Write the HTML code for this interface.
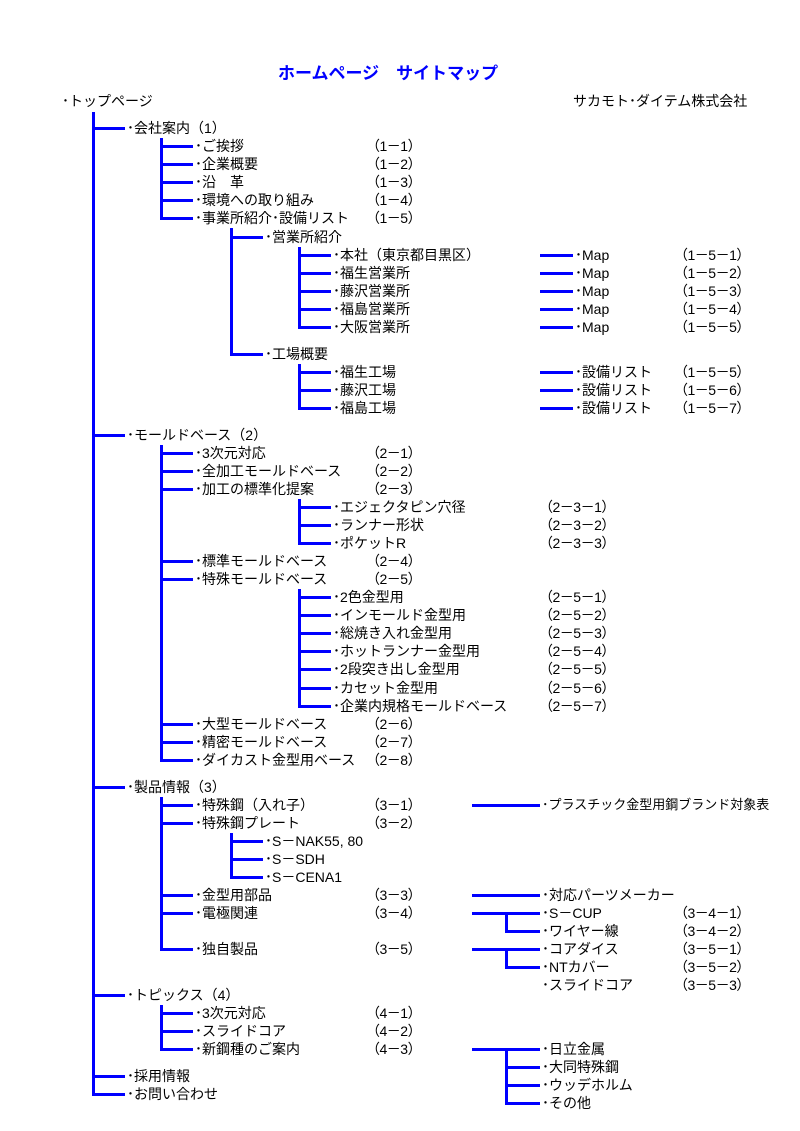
<!DOCTYPE html>
<html><head><meta charset="utf-8"><style>
body{margin:0;background:#fff;width:800px;height:1131px;position:relative;overflow:hidden;font-family:"Liberation Sans","Noto Sans CJK JP",sans-serif;color:#000}
.t{position:absolute;font-size:14px;line-height:18px;white-space:nowrap}
.c{font-size:14px;margin-left:-6px;letter-spacing:-0.5px}
.h{position:absolute;height:3px;background:#0000ff}
.v{position:absolute;width:3px;background:#0000ff}
</style></head><body>
<div class="t" style="left:278px;top:63px;font-size:17px;line-height:22px;font-weight:bold;color:#0000ff">ホームページ　サイトマップ</div>
<div class="t" style="left:62px;top:92px">･トップページ</div>
<div class="t" style="left:573px;top:92px">サカモト･ダイテム株式会社</div>

<div class="v" style="left:92px;top:112px;height:984px"></div>
<div class="h" style="left:92px;top:127px;width:33px"></div><div class="t" style="left:127px;top:119px">･会社案内（1）</div>
<div class="h" style="left:92px;top:434px;width:33px"></div><div class="t" style="left:127px;top:426px">･モールドベース（2）</div>
<div class="h" style="left:92px;top:786px;width:33px"></div><div class="t" style="left:127px;top:778px">･製品情報（3）</div>
<div class="h" style="left:92px;top:994px;width:33px"></div><div class="t" style="left:127px;top:986px">･トピックス（4）</div>
<div class="h" style="left:92px;top:1075px;width:33px"></div><div class="t" style="left:127px;top:1067px">･採用情報</div>
<div class="h" style="left:92px;top:1093px;width:33px"></div><div class="t" style="left:127px;top:1085px">･お問い合わせ</div>

<div class="v" style="left:160px;top:138px;height:82px"></div>
<div class="h" style="left:160px;top:145px;width:33px"></div><div class="t" style="left:195px;top:137px">･ご挨拶</div><div class="t c" style="left:372px;top:137px">（1－1）</div>
<div class="h" style="left:160px;top:163px;width:33px"></div><div class="t" style="left:195px;top:155px">･企業概要</div><div class="t c" style="left:372px;top:155px">（1－2）</div>
<div class="h" style="left:160px;top:181px;width:33px"></div><div class="t" style="left:195px;top:173px">･沿　革</div><div class="t c" style="left:372px;top:173px">（1－3）</div>
<div class="h" style="left:160px;top:199px;width:33px"></div><div class="t" style="left:195px;top:191px">･環境への取り組み</div><div class="t c" style="left:372px;top:191px">（1－4）</div>
<div class="h" style="left:160px;top:217px;width:33px"></div><div class="t" style="left:195px;top:209px">･事業所紹介･設備リスト</div><div class="t c" style="left:372px;top:209px">（1－5）</div>

<div class="v" style="left:230px;top:228px;height:128px"></div>
<div class="h" style="left:230px;top:236px;width:33px"></div><div class="t" style="left:265px;top:228px">･営業所紹介</div>
<div class="h" style="left:230px;top:353px;width:33px"></div><div class="t" style="left:265px;top:345px">･工場概要</div>

<div class="v" style="left:298px;top:247px;height:82px"></div>
<div class="h" style="left:298px;top:254px;width:33px"></div><div class="t" style="left:333px;top:246px">･本社（東京都目黒区）</div>
<div class="h" style="left:298px;top:272px;width:33px"></div><div class="t" style="left:333px;top:264px">･福生営業所</div>
<div class="h" style="left:298px;top:290px;width:33px"></div><div class="t" style="left:333px;top:282px">･藤沢営業所</div>
<div class="h" style="left:298px;top:308px;width:33px"></div><div class="t" style="left:333px;top:300px">･福島営業所</div>
<div class="h" style="left:298px;top:326px;width:33px"></div><div class="t" style="left:333px;top:318px">･大阪営業所</div>
<div class="h" style="left:540px;top:254px;width:33px"></div><div class="t" style="left:575px;top:246px">･Map</div><div class="t c" style="left:680px;top:246px">（1－5－1）</div>
<div class="h" style="left:540px;top:272px;width:33px"></div><div class="t" style="left:575px;top:264px">･Map</div><div class="t c" style="left:680px;top:264px">（1－5－2）</div>
<div class="h" style="left:540px;top:290px;width:33px"></div><div class="t" style="left:575px;top:282px">･Map</div><div class="t c" style="left:680px;top:282px">（1－5－3）</div>
<div class="h" style="left:540px;top:308px;width:33px"></div><div class="t" style="left:575px;top:300px">･Map</div><div class="t c" style="left:680px;top:300px">（1－5－4）</div>
<div class="h" style="left:540px;top:326px;width:33px"></div><div class="t" style="left:575px;top:318px">･Map</div><div class="t c" style="left:680px;top:318px">（1－5－5）</div>

<div class="v" style="left:298px;top:364px;height:46px"></div>
<div class="h" style="left:298px;top:371px;width:33px"></div><div class="t" style="left:333px;top:363px">･福生工場</div>
<div class="h" style="left:298px;top:389px;width:33px"></div><div class="t" style="left:333px;top:381px">･藤沢工場</div>
<div class="h" style="left:298px;top:407px;width:33px"></div><div class="t" style="left:333px;top:399px">･福島工場</div>
<div class="h" style="left:540px;top:371px;width:33px"></div><div class="t" style="left:575px;top:363px">･設備リスト</div><div class="t c" style="left:680px;top:363px">（1－5－5）</div>
<div class="h" style="left:540px;top:389px;width:33px"></div><div class="t" style="left:575px;top:381px">･設備リスト</div><div class="t c" style="left:680px;top:381px">（1－5－6）</div>
<div class="h" style="left:540px;top:407px;width:33px"></div><div class="t" style="left:575px;top:399px">･設備リスト</div><div class="t c" style="left:680px;top:399px">（1－5－7）</div>

<div class="v" style="left:160px;top:445px;height:317px"></div>
<div class="h" style="left:160px;top:452px;width:33px"></div><div class="t" style="left:195px;top:444px">･3次元対応</div><div class="t c" style="left:372px;top:444px">（2－1）</div>
<div class="h" style="left:160px;top:470px;width:33px"></div><div class="t" style="left:195px;top:462px">･全加工モールドベース</div><div class="t c" style="left:372px;top:462px">（2－2）</div>
<div class="h" style="left:160px;top:488px;width:33px"></div><div class="t" style="left:195px;top:480px">･加工の標準化提案</div><div class="t c" style="left:372px;top:480px">（2－3）</div>
<div class="v" style="left:298px;top:499px;height:46px"></div>
<div class="h" style="left:298px;top:506px;width:33px"></div><div class="t" style="left:333px;top:498px">･エジェクタピン穴径</div><div class="t c" style="left:545px;top:498px">（2－3－1）</div>
<div class="h" style="left:298px;top:524px;width:33px"></div><div class="t" style="left:333px;top:516px">･ランナー形状</div><div class="t c" style="left:545px;top:516px">（2－3－2）</div>
<div class="h" style="left:298px;top:542px;width:33px"></div><div class="t" style="left:333px;top:534px">･ポケットR</div><div class="t c" style="left:545px;top:534px">（2－3－3）</div>
<div class="h" style="left:160px;top:560px;width:33px"></div><div class="t" style="left:195px;top:552px">･標準モールドベース</div><div class="t c" style="left:372px;top:552px">（2－4）</div>
<div class="h" style="left:160px;top:578px;width:33px"></div><div class="t" style="left:195px;top:570px">･特殊モールドベース</div><div class="t c" style="left:372px;top:570px">（2－5）</div>
<div class="v" style="left:298px;top:589px;height:119px"></div>
<div class="h" style="left:298px;top:596px;width:33px"></div><div class="t" style="left:333px;top:588px">･2色金型用</div><div class="t c" style="left:545px;top:588px">（2－5－1）</div>
<div class="h" style="left:298px;top:614px;width:33px"></div><div class="t" style="left:333px;top:606px">･インモールド金型用</div><div class="t c" style="left:545px;top:606px">（2－5－2）</div>
<div class="h" style="left:298px;top:632px;width:33px"></div><div class="t" style="left:333px;top:624px">･総焼き入れ金型用</div><div class="t c" style="left:545px;top:624px">（2－5－3）</div>
<div class="h" style="left:298px;top:650px;width:33px"></div><div class="t" style="left:333px;top:642px">･ホットランナー金型用</div><div class="t c" style="left:545px;top:642px">（2－5－4）</div>
<div class="h" style="left:298px;top:668px;width:33px"></div><div class="t" style="left:333px;top:660px">･2段突き出し金型用</div><div class="t c" style="left:545px;top:660px">（2－5－5）</div>
<div class="h" style="left:298px;top:687px;width:33px"></div><div class="t" style="left:333px;top:679px">･カセット金型用</div><div class="t c" style="left:545px;top:679px">（2－5－6）</div>
<div class="h" style="left:298px;top:705px;width:33px"></div><div class="t" style="left:333px;top:697px">･企業内規格モールドベース</div><div class="t c" style="left:545px;top:697px">（2－5－7）</div>
<div class="h" style="left:160px;top:723px;width:33px"></div><div class="t" style="left:195px;top:715px">･大型モールドベース</div><div class="t c" style="left:372px;top:715px">（2－6）</div>
<div class="h" style="left:160px;top:741px;width:33px"></div><div class="t" style="left:195px;top:733px">･精密モールドベース</div><div class="t c" style="left:372px;top:733px">（2－7）</div>
<div class="h" style="left:160px;top:759px;width:33px"></div><div class="t" style="left:195px;top:751px">･ダイカスト金型用ベース</div><div class="t c" style="left:372px;top:751px">（2－8）</div>

<div class="v" style="left:160px;top:797px;height:154px"></div>
<div class="h" style="left:160px;top:804px;width:33px"></div><div class="t" style="left:195px;top:796px">･特殊鋼（入れ子）</div><div class="t c" style="left:372px;top:796px">（3－1）</div>
<div class="h" style="left:160px;top:822px;width:33px"></div><div class="t" style="left:195px;top:814px">･特殊鋼プレート</div><div class="t c" style="left:372px;top:814px">（3－2）</div>
<div class="v" style="left:230px;top:833px;height:46px"></div>
<div class="h" style="left:230px;top:840px;width:33px"></div><div class="t" style="left:265px;top:832px">･S－NAK55, 80</div>
<div class="h" style="left:230px;top:858px;width:33px"></div><div class="t" style="left:265px;top:850px">･S－SDH</div>
<div class="h" style="left:230px;top:876px;width:33px"></div><div class="t" style="left:265px;top:868px">･S－CENA1</div>
<div class="h" style="left:160px;top:894px;width:33px"></div><div class="t" style="left:195px;top:886px">･金型用部品</div><div class="t c" style="left:372px;top:886px">（3－3）</div>
<div class="h" style="left:160px;top:912px;width:33px"></div><div class="t" style="left:195px;top:904px">･電極関連</div><div class="t c" style="left:372px;top:904px">（3－4）</div>
<div class="h" style="left:160px;top:948px;width:33px"></div><div class="t" style="left:195px;top:940px">･独自製品</div><div class="t c" style="left:372px;top:940px">（3－5）</div>

<div class="h" style="left:472px;top:804px;width:68px"></div><div class="t" style="left:542px;top:796px;font-size:13px">･プラスチック金型用鋼ブランド対象表</div>
<div class="h" style="left:472px;top:894px;width:68px"></div><div class="t" style="left:542px;top:886px">･対応パーツメーカー</div>
<div class="h" style="left:472px;top:912px;width:68px"></div><div class="t" style="left:542px;top:904px">･S－CUP</div><div class="t c" style="left:680px;top:904px">（3－4－1）</div>
<div class="v" style="left:505px;top:912px;height:21px"></div>
<div class="h" style="left:505px;top:930px;width:35px"></div><div class="t" style="left:542px;top:922px">･ワイヤー線</div><div class="t c" style="left:680px;top:922px">（3－4－2）</div>
<div class="h" style="left:472px;top:948px;width:68px"></div><div class="t" style="left:542px;top:940px">･コアダイス</div><div class="t c" style="left:680px;top:940px">（3－5－1）</div>
<div class="v" style="left:505px;top:948px;height:21px"></div>
<div class="h" style="left:505px;top:966px;width:35px"></div><div class="t" style="left:542px;top:958px">･NTカバー</div><div class="t c" style="left:680px;top:958px">（3－5－2）</div>
<div class="t" style="left:542px;top:976px">･スライドコア</div><div class="t c" style="left:680px;top:976px">（3－5－3）</div>

<div class="v" style="left:160px;top:1005px;height:46px"></div>
<div class="h" style="left:160px;top:1012px;width:33px"></div><div class="t" style="left:195px;top:1004px">･3次元対応</div><div class="t c" style="left:372px;top:1004px">（4－1）</div>
<div class="h" style="left:160px;top:1030px;width:33px"></div><div class="t" style="left:195px;top:1022px">･スライドコア</div><div class="t c" style="left:372px;top:1022px">（4－2）</div>
<div class="h" style="left:160px;top:1048px;width:33px"></div><div class="t" style="left:195px;top:1040px">･新鋼種のご案内</div><div class="t c" style="left:372px;top:1040px">（4－3）</div>

<div class="h" style="left:472px;top:1048px;width:68px"></div><div class="t" style="left:542px;top:1040px">･日立金属</div>
<div class="v" style="left:505px;top:1048px;height:57px"></div>
<div class="h" style="left:505px;top:1066px;width:35px"></div><div class="t" style="left:542px;top:1058px">･大同特殊鋼</div>
<div class="h" style="left:505px;top:1084px;width:35px"></div><div class="t" style="left:542px;top:1076px">･ウッデホルム</div>
<div class="h" style="left:505px;top:1102px;width:35px"></div><div class="t" style="left:542px;top:1094px">･その他</div>
</body></html>
